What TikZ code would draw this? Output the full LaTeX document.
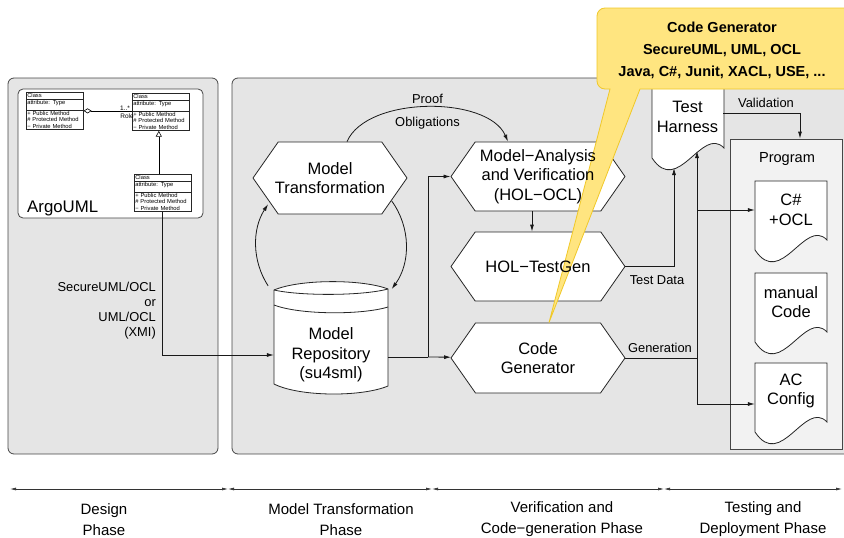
\documentclass[tikz,border=0pt]{standalone}
\usepackage{fontspec}
\setmainfont{Liberation Sans}
\usetikzlibrary{arrows.meta,shapes.symbols,shapes.multipart}

\definecolor{panelgray}{RGB}{229,229,229}
\definecolor{proggray}{RGB}{242,242,242}
\definecolor{callfill}{RGB}{255,229,128}
\definecolor{callline}{RGB}{240,200,40}
\definecolor{edgegray}{RGB}{70,70,70}

\newcommand{\docsheet}[3]{%
	\filldraw[docline] (#1,#3) -- (#1+72,#3) -- (#1+72,#2+59)
		.. controls (#1+50,#2+36) and (#1+26,#2+108) .. (#1,#2+69) -- cycle;}

\begin{document}
\begin{tikzpicture}[x=1pt,y=-1pt,>={Latex[length=7pt,width=4pt]}]

	\tikzset{
	  panel/.style={draw=edgegray,fill=panelgray,line width=0.8pt,rounded corners=6pt},
	  hexa/.style={signal,signal to=east and west,signal pointer angle=110,draw=black!85,fill=white,line width=0.8pt,inner sep=0pt},
	  hextext/.style={align=center,font=\fontsize{16.5pt}{19.5pt}\selectfont},
	  doctext/.style={align=center,minimum width=72pt,inner sep=0pt,font=\fontsize{16.5pt}{19.5pt}\selectfont},
	  docline/.style={draw=black!85,fill=white,line width=0.8pt},
	  flow/.style={draw=black!90,line width=0.8pt,->},
	  wire/.style={draw=black!90,line width=0.8pt},
	  lbl/.style={font=\fontsize{12.9pt}{15pt}\selectfont,inner sep=1pt},
	  phase/.style={draw=black!80,line width=0.7pt,{Latex[length=6pt,width=3pt]}-{Latex[length=6pt,width=3pt]}},
	  phasetext/.style={align=center,font=\fontsize{15pt}{21pt}\selectfont},
	  umlclass/.style={draw=black!85,fill=white,line width=0.6pt,rectangle split,rectangle split parts=3,
	    text width=55pt,inner sep=1pt,font=\fontsize{5.8pt}{6.3pt}\selectfont,align=left},
	  umltag/.style={font=\fontsize{6.5pt}{6.5pt}\selectfont,inner sep=0pt},
	  callout/.style={draw=callline,fill=callfill,line width=0.8pt},
	  calltext/.style={align=center,font=\fontsize{14.5pt}{22pt}\selectfont\bfseries},
	  progbox/.style={draw=edgegray,fill=proggray,line width=0.8pt,minimum width=112pt,minimum height=310pt,inner sep=0pt},
	}

	\useasboundingbox (0,0) rectangle (844,538);

	\draw[panel] (8,78) rectangle (218,454);
	\draw[panel,fill=white,rounded corners=5pt] (18,89) rectangle (203,218);
	\draw[panel] (232,78) rectangle (880,454);

	\node[umlclass,anchor=north west] (cls1) at (26,92) {Class\nodepart{two}attribute: Type\rule[-4pt]{0pt}{4pt}\nodepart{three}+ Public Method\\\# Protected Method\\− Private Method};
	\node[umlclass,anchor=north west] (cls2) at (132,93) {Class\nodepart{two}attribute: Type\rule[-4pt]{0pt}{4pt}\nodepart{three}+ Public Method\\\# Protected Method\\− Private Method};
	\node[umlclass,anchor=north west] (cls3) at (134,174) {Class\nodepart{two}attribute: Type\rule[-4pt]{0pt}{4pt}\nodepart{three}+ Public Method\\\# Protected Method\\− Private Method};
	\draw[line width=0.6pt,{Diamond[open,length=8pt,width=5pt]}-] (cls1.east) -- (cls1.east -| cls2.west);
	\node[umltag] (mult) at (125,108) {1..*};
	\node[umltag] (role) at (127,116) {Role};
	\draw[line width=0.6pt,-{Triangle[open,length=6pt,width=6pt]}] ([xshift=-4pt]cls3.north) -- ([xshift=-4pt]cls3.north |- cls2.south);
	\node[font=\fontsize{16.8pt}{18pt}\selectfont,anchor=west,inner sep=0pt] (argo) at (27,208) {ArgoUML};
	\node[lbl,align=right,anchor=east] (xmi) at (157,311) {SecureUML/OCL\\or\\UML/OCL\\(XMI)};

	\node[progbox] (prog) at (786,294) {};
	\node[lbl,font=\fontsize{14.6pt}{16pt}\selectfont] (progtitle) at (787,159) {Program};
	\docsheet{755}{181}{181}
	\docsheet{755}{273}{273}
	\docsheet{755}{363}{363}
	\docsheet{652}{89}{70}
	\node[doctext] (csdoc) at (791,210) {C\#\\+OCL};
	\node[doctext] (mandoc) at (791,302) {manual\\Code};
	\node[doctext] (acdoc) at (791,391) {AC\\Config};
	\node[doctext,minimum width=71pt] (th) at (687.5,117) {Test\\Harness};

	\filldraw[docline] (274,290) -- (274,384) .. controls (300,397) and (362,397) .. (388,386)
		-- (388,289) .. controls (362,279) and (300,279) .. (274,290) -- cycle;
	\draw[docline,fill=none] (274,290) .. controls (300,296) and (362,296) .. (388,289);
	\draw[docline,fill=none] (274,305) .. controls (300,315) and (362,315) .. (388,307);
	\node[doctext,minimum width=114pt] (repo) at (331,355) {Model\\Repository\\(su4sml)};

	\node[hexa,minimum width=154pt,minimum height=72pt] (mt) at (330,178) {};
	\node[hexa,minimum width=174pt,minimum height=69pt] (mav) at (538,176.5) {};
	\node[hexa,minimum width=174pt,minimum height=69pt] (holtg) at (538,266.5) {};
	\node[hexa,minimum width=174pt,minimum height=70pt] (codegen) at (538,358) {};

	\coordinate (loopc) at (331,245);
	\draw[flow] (loopc) ++(147:75) arc (147:213:75);
	\draw[flow] (loopc) ++(-36:75) arc (-36:36:75);
	\draw[flow] ([xshift=17pt]mt.north) .. controls +(20,-46) and +(-20,-46) .. ([xshift=-30pt]mav.north)
		node[lbl,midway,above=2pt] (proof) {Proof}
		node[lbl,midway,below=9pt] (oblig) {Obligations};

	\draw[flow] (cls3.south) |- (repo);
	\coordinate (split) at (428,357);
	\draw[wire] (repo.east |- split) -- (split);
	\draw[flow] (split) -- (codegen);
	\draw[flow] (split) |- (mav);
	\draw[flow] ([xshift=-6pt]mav.south) -- ([xshift=-6pt]holtg.north);

	\coordinate (thin1) at (674,168);
	\draw[flow] (holtg.east) -| (thin1);
	\node[lbl] (testdata) at (657,280) {Test Data};

	\coordinate (busb) at (697,404);
	\coordinate (bust) at (697,151);
	\draw[wire] (codegen.east) -- (codegen.east -| busb);
	\node[lbl] (gen) at (660,348) {Generation};
	\draw[flow] (busb) -- (bust);
	\draw[flow] (busb |- csdoc) -- (csdoc.west);
	\draw[flow] (busb) -- (busb -| acdoc.west);
	\draw[flow] ([yshift=4pt]th.east) -| ([xshift=14pt]prog.north);
	\node[lbl] (valid) at (766,103) {Validation};

	\filldraw[callout] (610,89) [rounded corners=8pt] -- (597,89) -- (597,8) -- (880,8) -- (880,89)
		[sharp corners] -- (640,89) -- ([xshift=11pt]codegen.north) -- cycle;
	\node[calltext] (calltxt) at (722,50) {Code Generator\\SecureUML, UML, OCL\\Java, C\#, Junit, XACL, USE, ...};

	\node[hextext] (mttxt) at (mt) {Model\\Transformation};
	\node[hextext] (mavtxt) at (mav) {Model−Analysis\\and Verification\\(HOL−OCL)};
	\node[hextext] (holtgtxt) at (holtg) {HOL−TestGen};
	\node[hextext] (codegentxt) at (codegen) {Code\\Generator};

	\foreach \px [count=\i] in {10,228,432,664,842} {\coordinate (p\i) at (\px,489);}
	\foreach \i/\j in {1/2,2/3,3/4,4/5} {\draw[phase] (p\i) -- (p\j);}
	\node[phasetext] (ph1) at (104,519.5) {Design\\Phase};
	\node[phasetext] (ph2) at (341,519.5) {Model Transformation\\Phase};
	\node[phasetext] (ph3) at (562,519.5) {Verification and\\Code−generation Phase};
	\node[phasetext] (ph4) at (763,519.5) {Testing and\\Deployment Phase};

\end{tikzpicture}
\end{document}
